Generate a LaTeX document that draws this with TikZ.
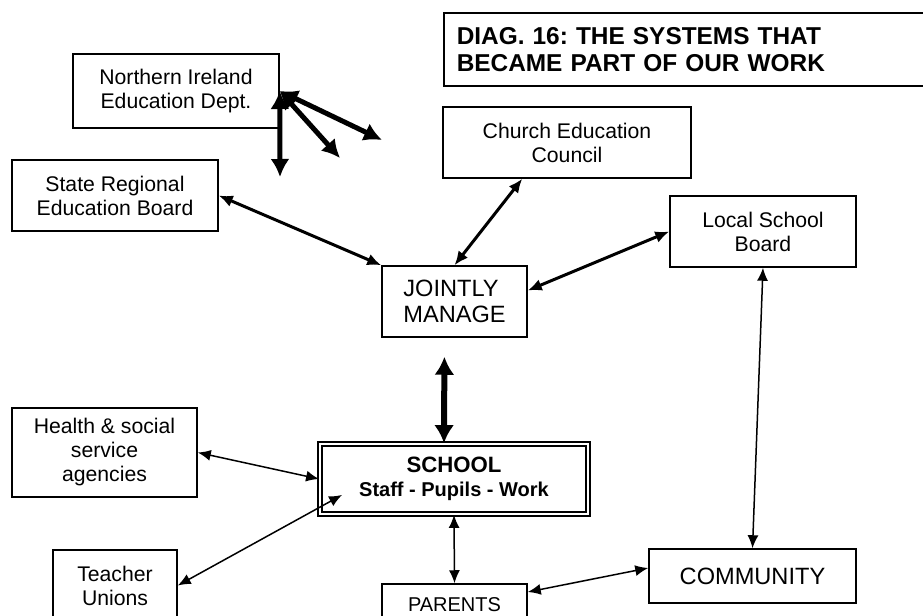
\documentclass[tikz,border=0pt]{standalone}
\usepackage{fontspec}
\setmainfont{Liberation Sans}
\usetikzlibrary{arrows.meta, positioning, calc}
\frenchspacing
\definecolor{darkline}{HTML}{000000}
\tikzset{
  card/.style={rectangle, draw=darkline, line width=0.75pt, align=center,
               inner sep=2pt, font=\fontsize{10.6}{12}\selectfont},
  capcard/.style={card, align=left, font=\fontsize{11.8}{13}\selectfont},
  hub/.style={rectangle, draw=darkline, double, double distance=1pt, line width=0.9pt,
              align=center, font=\bfseries\fontsize{10}{12}\selectfont},
  banner/.style={rectangle, draw=darkline, line width=0.75pt, anchor=north west,
                 align=left, inner xsep=6.5pt, font=\bfseries\fontsize{12.2}{13.5}\selectfont},
  flow/.style={<->, >={Latex[length=6.5pt, width=5.5pt]}, line width=0.75pt, draw=darkline},
  link/.style={<->, >={Latex[length=7pt, width=6pt]}, line width=1.5pt, draw=darkline},
  heavy/.style={<->, >={Latex[length=9pt, width=9.5pt]}, line width=2.5pt, draw=darkline},
  trunk/.style={<->, >={Latex[length=9pt, width=10pt]}, line width=3pt, draw=darkline},
}

\begin{document}
\begin{tikzpicture}[x=0.5pt, y=-0.5pt]
\useasboundingbox (0,0) rectangle (923,616);

% Title (runs off the right edge)
\node[banner, minimum width=300pt, minimum height=36.5pt, text width=287pt] (title) at (443,12)
  {DIAG. 16: THE SYSTEMS THAT\\BECAME PART OF OUR WORK};

% Outer bodies
\node[card, minimum width=103pt, minimum height=37pt] (nied) at (176,91) {Northern Ireland\\Education Dept.};
\node[card, minimum width=103pt, minimum height=35.5pt] (state) at (115,195.5) {State Regional\\Education Board};
\node[card, minimum width=124pt, minimum height=35.5pt] (church) at (567,142.5) {Church Education\\Council};
\node[card, minimum width=93pt, minimum height=35.5pt] (local) at (763,231.5) {Local School\\Board};

% Management and school
\node[capcard, minimum width=72.5pt, minimum height=35.5pt] (jm) at (454.5,301.5) {JOINTLY\\MANAGE};
\node[hub, minimum width=134pt, minimum height=35pt] (school) at (454,479)
  {{\fontsize{11.1}{12}\selectfont SCHOOL}\\Staff - Pupils - Work};

% Around the school
\node[card, minimum width=92.5pt, minimum height=44.5pt] (health) at (104.5,452.5) {Health \& social\\service\\agencies};
\node[card, minimum width=62pt, minimum height=35.5pt] (unions) at (115,585.5) {Teacher\\Unions};
\node[card, font=\fontsize{10}{12}\selectfont, minimum width=72.5pt, minimum height=21pt] (parents) at (454.5,605) {PARENTS};
\node[capcard, minimum width=103.5pt, minimum height=27pt] (community) at (752.5,576) {COMMUNITY};

% Free ends of the department arrows
\coordinate (nidown) at (280,177);
\coordinate (nimid) at (340,158);
\coordinate (nifar) at (382,140);

% Links
\draw[heavy] (nied.east) -- (nidown);
\draw[heavy] (nied.east) -- (nimid);
\draw[heavy] (nied.east) -- (nifar);
\draw[link] (state.east) -- (jm.north west);
\draw[link] ([xshift=40pt]church.south west) -- (jm.north);
\draw[link] (local.west) -- ([yshift=5.5pt]jm.east);
\draw[trunk, shorten <=9.5pt] ([xshift=-5pt]jm.south) -- ([xshift=-5pt]school.north);
\draw[flow] (health.east) -- (school.west);
\draw[flow] (unions.east) -- ([xshift=11.5pt, yshift=10pt]school.south west);
\draw[flow] (school.south) -- (parents.north);
\draw[flow] ([yshift=6.5pt]parents.east) -- ([yshift=4pt]community.west);
\draw[flow] (local.south) -- (community.north);

\end{tikzpicture}
\end{document}
